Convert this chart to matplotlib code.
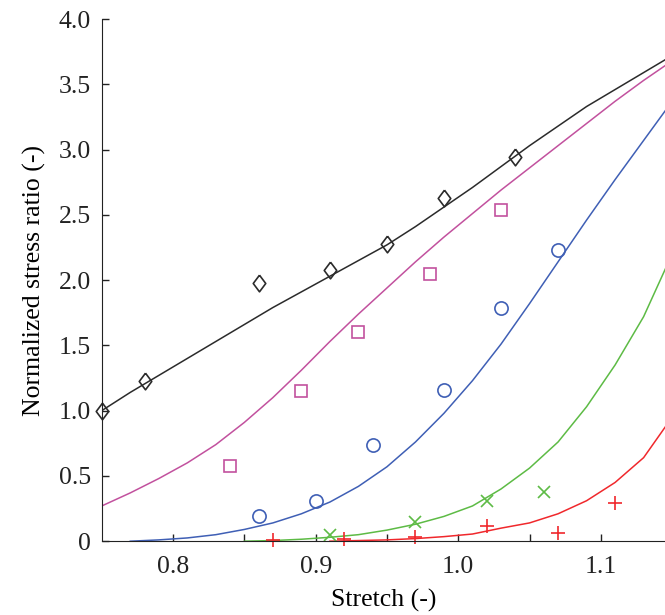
import matplotlib.pyplot as plt
import numpy as np
from matplotlib.ticker import FixedLocator

plt.rcParams['font.family'] = ['Liberation Serif', 'DejaVu Serif']

# model curves, sampled on a 0.02 stretch grid
grid = np.round(np.arange(0.75, 1.1501, 0.02), 2)
black_line = [1.00, 1.14, 1.27, 1.40, 1.53, 1.66, 1.79, 1.91, 2.03, 2.15, 2.27,
              2.41, 2.56, 2.71, 2.87, 3.03, 3.18, 3.33, 3.46, 3.59, 3.72]
magenta_line = [0.27, 0.37, 0.48, 0.60, 0.74, 0.91, 1.10, 1.31, 1.53, 1.74, 1.94,
                2.14, 2.33, 2.51, 2.69, 2.86, 3.03, 3.20, 3.37, 3.53, 3.68]
blue_line = [np.nan, 0.0, 0.01, 0.025, 0.05, 0.09, 0.14, 0.21, 0.30, 0.42, 0.57,
             0.76, 0.98, 1.23, 1.51, 1.82, 2.14, 2.46, 2.77, 3.07, 3.37]
green_line = [np.nan] * 5 + [0.0, 0.005, 0.015, 0.03, 0.05, 0.085,
                             0.13, 0.19, 0.27, 0.40, 0.56, 0.76, 1.03, 1.35, 1.72, 2.20]
red_line = [np.nan] * 8 + [0.0, 0.005, 0.01, 0.02, 0.035, 0.055,
                           0.10, 0.14, 0.21, 0.31, 0.45, 0.64, 0.95]

# measured points
black_x = [0.75, 0.78, 0.86, 0.91, 0.95, 0.99, 1.04]
black_y = [1.00, 1.23, 1.98, 2.08, 2.28, 2.63, 2.94]
magenta_x = [0.84, 0.89, 0.93, 0.98, 1.03]
magenta_y = [0.575, 1.15, 1.60, 2.05, 2.54]
blue_x = [0.86, 0.90, 0.94, 0.99, 1.03, 1.07]
blue_y = [0.19, 0.31, 0.74, 1.16, 1.79, 2.23]
green_x = [0.91, 0.97, 1.02, 1.06]
green_y = [0.05, 0.15, 0.31, 0.375]
red_x = [0.87, 0.92, 0.97, 1.02, 1.07, 1.11]
red_y = [0.01, 0.02, 0.03, 0.12, 0.065, 0.29]

black = '#2b2b2b'
magenta = '#c2519e'
blue = '#3f5fb5'
green = '#5dbb45'
red = '#f0282c'

# open diamond, a bit narrower than tall
diamond = [(0, 1), (0.75, 0), (0, -1), (-0.75, 0), (0, 1)]

fig = plt.figure(figsize=(6.65, 6.15), dpi=100)
ax = fig.add_axes([0.153, 0.12, 0.847, 0.849])

lw = 1.1
ax.plot(grid, black_line, color=black, lw=lw)
ax.plot(grid, magenta_line, color=magenta, lw=lw)
ax.plot(grid, blue_line, color=blue, lw=lw)
ax.plot(grid, green_line, color=green, lw=lw)
ax.plot(grid, red_line, color=red, lw=lw)

mew = 1.2
ax.plot(black_x, black_y, ls='none', marker=diamond, ms=12, mfc='none', mec=black, mew=mew, clip_on=False)
ax.plot(magenta_x, magenta_y, ls='none', marker='s', ms=8, mfc='none', mec=magenta, mew=mew)
ax.plot(blue_x, blue_y, ls='none', marker='o', ms=9.5, mfc='none', mec=blue, mew=mew)
ax.plot(green_x, green_y, ls='none', marker='x', ms=8, mec=green, mew=mew)
ax.plot(red_x, red_y, ls='none', marker='+', ms=10, mec=red, mew=mew, clip_on=False)

ax.set_xlim(0.75, 1.145)
ax.set_ylim(0, 4.0)
ax.spines['top'].set_visible(False)
ax.spines['right'].set_visible(False)
ax.spines['left'].set_color('#222222')
ax.spines['bottom'].set_color('#222222')

ax.xaxis.set_major_locator(FixedLocator([0.8, 0.9, 1.0, 1.1]))
ax.xaxis.set_minor_locator(FixedLocator([0.85, 0.95, 1.05]))
ax.set_xticklabels(['0.8', '0.9', '1.0', '1.1'])
ax.set_yticks([0, 0.5, 1.0, 1.5, 2.0, 2.5, 3.0, 3.5, 4.0])
ax.set_yticklabels(['0', '0.5', '1.0', '1.5', '2.0', '2.5', '3.0', '3.5', '4.0'])
ax.tick_params(which='both', direction='in', length=5, width=1, color='#222222',
               labelsize=18.5, labelcolor='#222222')
ax.tick_params(axis='y', pad=8)
ax.tick_params(axis='x', pad=10.5)

ax.set_xlabel('Stretch (-)', fontsize=18.5, labelpad=8)
ax.set_ylabel('Normalized stress ratio (-)', fontsize=18.5, labelpad=9)

fig.savefig('out.png', dpi=100)
